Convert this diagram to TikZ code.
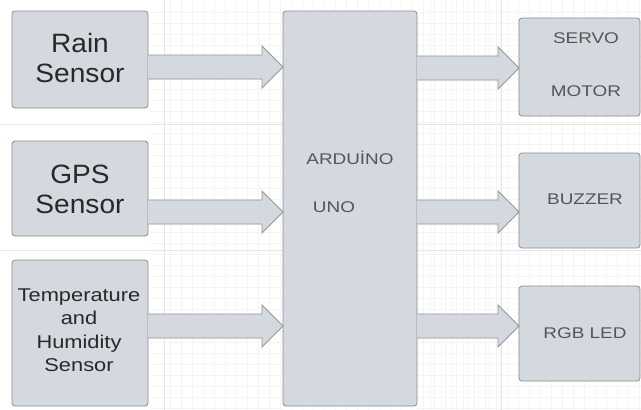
\documentclass[tikz,border=0pt]{standalone}
\usepackage{fontspec}
\setmainfont{Liberation Sans}
\newfontfamily\bigfam[FakeStretch=1.06]{Liberation Sans}
\newfontfamily\midfam[FakeStretch=1.18]{Liberation Sans}
\newfontfamily\smallfam[FakeStretch=1.22]{Liberation Sans}
\usetikzlibrary{calc}
\definecolor{boxfill}{RGB}{212,216,223}
\definecolor{boxline}{RGB}{140,140,140}
\definecolor{arrline}{RGB}{150,150,150}
\definecolor{darktext}{RGB}{40,40,40}
\definecolor{greytext}{RGB}{85,85,85}
\definecolor{gridminor}{RGB}{245,245,245}
\definecolor{gridmajor}{RGB}{230,230,230}
\tikzset{
  blockbox/.style={draw=boxline, fill=boxfill, rounded corners=3pt, line width=0.8pt},
  fatarrow/.style={draw=arrline, fill=boxfill, line width=0.8pt, line join=miter},
  bigtext/.style={font=\bigfam\fontsize{26.5}{30}\selectfont, text=darktext, align=center},
  midtext/.style={font=\midfam\fontsize{18.5}{23.5}\selectfont, text=darktext, align=center},
  smalltext/.style={font=\smallfam\fontsize{15.5}{18}\selectfont, text=greytext},
}
\newcommand\fatarr[2]{%
  \fill[boxfill] ($(#1)+(0,-12)$) -- ($(#2)+(-21,-12)$) -- ($(#2)+(-21,-21)$) -- (#2)
    -- ($(#2)+(-21,21)$) -- ($(#2)+(-21,12)$) -- ($(#1)+(0,12)$) -- cycle;
  \draw[fatarrow] ($(#1)+(0,-12)$) -- ($(#2)+(-21,-12)$) -- ($(#2)+(-21,-21)$) -- (#2)
    -- ($(#2)+(-21,21)$) -- ($(#2)+(-21,12)$) -- ($(#1)+(0,12)$);
}
\begin{document}
\begin{tikzpicture}[x=1pt,y=-1pt]
\useasboundingbox (0,0) rectangle (641,410);
\fill[white] (0,0) rectangle (641,410);
% faint grid
\foreach \gx in {170,181,...,500} \draw[gridminor,line width=0.6pt] (\gx,0) -- (\gx,410);
\foreach \gx in {430,441,...,641} \draw[gridminor,line width=0.6pt] (\gx,0) -- (\gx,410);
\foreach \gy in {12,23,...,410} \draw[gridminor,line width=0.6pt] (150,\gy) -- (283,\gy);
\foreach \gy in {12,23,...,410} \draw[gridminor,line width=0.6pt] (417,\gy) -- (641,\gy);
\draw[gridmajor,line width=0.8pt] (164,0) -- (164,410);
\draw[gridmajor,line width=0.8pt] (501,0) -- (501,410);
\draw[gridmajor,line width=0.6pt] (0,124) -- (641,124);
\draw[gridmajor,line width=0.6pt] (0,250) -- (641,250);

% left boxes
\draw[blockbox] (12,11) rectangle (148,108);
\node[bigtext] (rain) at (80,58) {Rain\\Sensor};
\draw[blockbox] (12,141) rectangle (148,236);
\node[bigtext] (gps) at (80,189) {GPS\\Sensor};
\draw[blockbox] (12,260) rectangle (148,406);
\node[midtext] (temp) at (79,330) {Temperature\\and\\Humidity\\Sensor};

% arduino
\draw[blockbox] (283,11) rectangle (417,406);
\node[smalltext] (ard) at (350,158) {ARDU\.{I}NO};
\node[smalltext] (uno) at (334,207) {UNO};

% right boxes
\draw[blockbox] (519,18) rectangle (640,116);
\node[smalltext] (servo) at (586,38.5) {SERVO};
\node[smalltext] (motor) at (586,91) {MOTOR};
\draw[blockbox] (519,153) rectangle (640,248);
\node[smalltext] (buzzer) at (585,199.5) {BUZZER};
\draw[blockbox] (519,286) rectangle (640,381);
\node[smalltext] (rgb) at (585,333.5) {RGB LED};

% arrow endpoints
\coordinate (a1s) at (148,67);  \coordinate (a1e) at (283,67);
\coordinate (a2s) at (148,212); \coordinate (a2e) at (283,212);
\coordinate (a3s) at (148,326); \coordinate (a3e) at (283,326);
\coordinate (b1s) at (417,68);  \coordinate (b1e) at (519,68);
\coordinate (b2s) at (417,212); \coordinate (b2e) at (519,212);
\coordinate (b3s) at (417,326); \coordinate (b3e) at (519,326);
\fatarr{a1s}{a1e}
\fatarr{a2s}{a2e}
\fatarr{a3s}{a3e}
\fatarr{b1s}{b1e}
\fatarr{b2s}{b2e}
\fatarr{b3s}{b3e}
\end{tikzpicture}
\end{document}
